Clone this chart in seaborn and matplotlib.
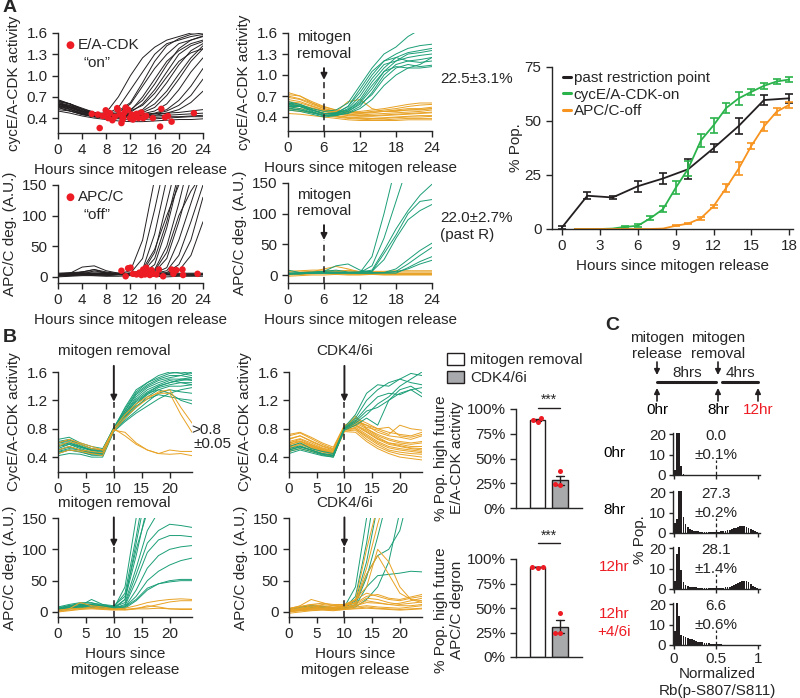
import numpy as np
import pandas as pd
import matplotlib
matplotlib.use('Agg')
import matplotlib.pyplot as plt
import seaborn as sns
from matplotlib.patches import Patch

sns.set_style('ticks')
plt.rcParams['font.family'] = ['Liberation Sans', 'DejaVu Sans']
plt.rcParams['font.size'] = 11
plt.rcParams['axes.linewidth'] = 1
plt.rcParams['xtick.major.size'] = 4
plt.rcParams['ytick.major.size'] = 4

GREEN = '#1b9e77'
ORANGE = '#e8a224'
RED = '#ed1c24'

# ---------------- data ----------------
hours = [0, 2, 4, 6, 8, 10, 12, 14, 16, 18, 20, 22, 24]

# A: single-cell cycE/A-CDK activity (black)
a_cdk_traces = [
    [0.62, 0.58, 0.50, 0.45, 0.48, 0.70, 1.00, 1.25, 1.40, 1.50, 1.55, 1.60, 1.62],
    [0.60, 0.55, 0.48, 0.44, 0.45, 0.55, 0.80, 1.05, 1.30, 1.45, 1.50, 1.55, 1.58],
    [0.58, 0.52, 0.46, 0.42, 0.44, 0.48, 0.60, 0.85, 1.10, 1.30, 1.45, 1.50, 1.55],
    [0.65, 0.60, 0.52, 0.46, 0.44, 0.45, 0.50, 0.70, 0.95, 1.20, 1.35, 1.45, 1.50],
    [0.55, 0.50, 0.45, 0.42, 0.40, 0.42, 0.48, 0.60, 0.80, 1.05, 1.30, 1.42, 1.48],
    [0.60, 0.57, 0.50, 0.45, 0.43, 0.44, 0.46, 0.52, 0.68, 0.90, 1.15, 1.35, 1.45],
    [0.63, 0.60, 0.52, 0.47, 0.45, 0.44, 0.45, 0.48, 0.55, 0.72, 0.95, 1.20, 1.38],
    [0.57, 0.53, 0.47, 0.43, 0.42, 0.43, 0.44, 0.46, 0.50, 0.60, 0.80, 1.05, 1.25],
    [0.60, 0.55, 0.50, 0.46, 0.44, 0.43, 0.44, 0.45, 0.47, 0.52, 0.65, 0.85, 1.10],
    [0.52, 0.50, 0.45, 0.42, 0.41, 0.40, 0.42, 0.44, 0.46, 0.50, 0.58, 0.72, 0.95],
    [0.62, 0.56, 0.50, 0.46, 0.44, 0.43, 0.42, 0.42, 0.43, 0.44, 0.45, 0.46, 0.47],
    [0.55, 0.50, 0.46, 0.42, 0.40, 0.39, 0.38, 0.38, 0.39, 0.40, 0.41, 0.42, 0.42],
    [0.66, 0.60, 0.54, 0.48, 0.45, 0.44, 0.44, 0.45, 0.46, 0.47, 0.48, 0.50, 0.52],
    [0.50, 0.47, 0.43, 0.40, 0.38, 0.36, 0.35, 0.35, 0.36, 0.37, 0.38, 0.38, 0.39],
    [0.60, 0.58, 0.52, 0.47, 0.46, 0.50, 0.62, 0.90, 1.20, 1.42, 1.52, 1.58, 1.60],
    [0.58, 0.54, 0.49, 0.45, 0.44, 0.46, 0.52, 0.65, 0.88, 1.15, 1.38, 1.50, 1.56],
    [0.64, 0.60, 0.53, 0.48, 0.46, 0.46, 0.47, 0.50, 0.60, 0.78, 1.02, 1.25, 1.42],
    [0.56, 0.52, 0.47, 0.44, 0.42, 0.41, 0.42, 0.43, 0.44, 0.47, 0.52, 0.62, 0.78],
    [0.60, 0.55, 0.49, 0.45, 0.43, 0.42, 0.41, 0.41, 0.41, 0.42, 0.42, 0.43, 0.44],
    [0.58, 0.55, 0.50, 0.46, 0.44, 0.45, 0.50, 0.58, 0.75, 0.98, 1.20, 1.32, 1.38],
]
cdk_on_hour = [5.6, 6.6, 6.9, 7.4, 7.9, 8.3, 8.6, 9.0, 9.4, 9.8, 10.2, 10.5, 10.8, 11.0,
               11.2, 11.6, 11.9, 12.2, 12.4, 12.9, 13.3, 13.8, 14.1, 14.6, 15.7, 16.9,
               17.1, 17.7, 18.2, 18.8, 22.5, 9.9, 13.0, 10.7, 8.1]
cdk_on_value = [0.46, 0.45, 0.26, 0.43, 0.51, 0.40, 0.47, 0.37, 0.42, 0.54, 0.45, 0.33,
                0.41, 0.48, 0.55, 0.52, 0.40, 0.45, 0.38, 0.42, 0.40, 0.48, 0.40, 0.43,
                0.40, 0.28, 0.53, 0.41, 0.43, 0.35, 0.47, 0.52, 0.46, 0.38, 0.45]

# A: APC/C degradation (black)
a_apc_traces = [
    [3, 4, 6, 5, 4, 5, 10, 60, 160, 250, 300, 320, 330],
    [2, 3, 4, 4, 4, 4, 6, 30, 110, 200, 260, 300, 320],
    [4, 5, 5, 6, 5, 6, 5, 12, 70, 160, 240, 280, 300],
    [3, 3, 4, 5, 4, 4, 5, 8, 40, 120, 200, 260, 300],
    [2, 4, 5, 4, 3, 4, 4, 6, 20, 80, 160, 230, 280],
    [5, 6, 7, 6, 5, 5, 5, 6, 12, 50, 120, 200, 260],
    [3, 4, 3, 4, 4, 5, 5, 6, 8, 30, 90, 160, 220],
    [4, 3, 4, 5, 5, 4, 4, 5, 6, 15, 60, 120, 180],
    [2, 3, 4, 4, 3, 4, 5, 5, 6, 10, 35, 90, 150],
    [3, 4, 5, 5, 4, 4, 4, 5, 5, 7, 20, 60, 130],
    [4, 5, 6, 5, 4, 4, 5, 5, 6, 6, 10, 35, 90],
    [3, 4, 4, 4, 4, 5, 5, 12, 45, 100, 150, 200, 240],
    [3, 5, 8, 12, 6, 5, 6, 8, 30, 90, 170, 230, 280],
    [4, 4, 5, 5, 5, 5, 6, 6, 10, 40, 100, 140, 170],
    [2, 6, 16, 18, 10, 6, 4, 4, 5, 5, 5, 5, 5],
    [4, 5, 8, 12, 8, 5, 4, 4, 4, 4, 4, 4, 4],
    [1, 2, 3, 2, 2, 3, 3, 2, 2, 3, 2, 2, 3],
    [6, 7, 8, 8, 7, 6, 6, 7, 6, 6, 6, 6, 6],
    [0, 1, 2, 2, 1, 1, 2, 1, 1, 0, 1, 1, 1],
    [3, 3, 4, 10, 6, 4, 3, 3, 4, 4, 3, 3, 4],
]
apc_off_hour = [10.5, 11.2, 11.6, 12.0, 12.4, 13.0, 13.5, 14.1, 14.4, 14.6, 14.9, 15.2,
                15.5, 15.7, 16.7, 17.4, 18.8, 19.1, 19.6, 20.6, 20.7, 23.1, 13.8, 16.3, 14.6]
apc_off_value = [10, 1, 14, 15, 5, 4, 7, 12, 4, 15, 8, 3, 11, 5, 12, 1, 12, 5, 11, 12, 3,
                 5, 3, 4, 8]

# A: mitogen removal at 6 h
a6_cdk_green = [
    [0.60, 0.58, 0.52, 0.48, 0.50, 0.60, 0.85, 1.10, 1.30, 1.40, 1.55, 1.65, 1.70],
    [0.55, 0.55, 0.50, 0.45, 0.45, 0.55, 0.75, 1.00, 1.20, 1.30, 1.38, 1.42, 1.44],
    [0.58, 0.56, 0.50, 0.44, 0.46, 0.50, 0.65, 0.90, 1.10, 1.25, 1.32, 1.35, 1.38],
    [0.52, 0.50, 0.46, 0.42, 0.42, 0.48, 0.60, 0.80, 1.05, 1.20, 1.30, 1.32, 1.35],
    [0.60, 0.55, 0.48, 0.42, 0.44, 0.52, 0.70, 0.95, 1.15, 1.20, 1.25, 1.28, 1.30],
    [0.50, 0.48, 0.44, 0.40, 0.42, 0.46, 0.55, 0.75, 1.00, 1.15, 1.20, 1.22, 1.25],
    [0.62, 0.58, 0.50, 0.45, 0.46, 0.55, 0.80, 1.05, 1.20, 1.25, 1.20, 1.18, 1.20],
    [0.55, 0.52, 0.47, 0.42, 0.44, 0.48, 0.58, 0.72, 0.95, 1.10, 1.15, 1.12, 1.14],
    [0.57, 0.55, 0.50, 0.45, 0.45, 0.50, 0.62, 0.85, 1.05, 1.12, 1.10, 1.10, 1.12],
    [0.53, 0.50, 0.46, 0.42, 0.43, 0.45, 0.52, 0.65, 0.85, 1.00, 1.10, 1.15, 1.25],
]
a6_cdk_orange = [
    [0.72, 0.70, 0.62, 0.55, 0.50, 0.48, 0.48, 0.50, 0.52, 0.55, 0.58, 0.60, 0.60],
    [0.68, 0.65, 0.58, 0.52, 0.48, 0.46, 0.45, 0.46, 0.48, 0.50, 0.52, 0.52, 0.54],
    [0.62, 0.60, 0.55, 0.50, 0.46, 0.44, 0.43, 0.44, 0.45, 0.46, 0.47, 0.48, 0.50],
    [0.58, 0.56, 0.52, 0.48, 0.44, 0.42, 0.41, 0.41, 0.42, 0.43, 0.44, 0.45, 0.46],
    [0.55, 0.52, 0.50, 0.46, 0.42, 0.40, 0.39, 0.38, 0.39, 0.40, 0.41, 0.42, 0.42],
    [0.50, 0.48, 0.46, 0.43, 0.40, 0.38, 0.37, 0.36, 0.36, 0.37, 0.38, 0.38, 0.38],
    [0.45, 0.44, 0.42, 0.40, 0.38, 0.36, 0.35, 0.35, 0.35, 0.35, 0.36, 0.36, 0.36],
    [0.65, 0.62, 0.56, 0.50, 0.47, 0.62, 0.65, 0.52, 0.48, 0.48, 0.50, 0.50, 0.52],
    [0.75, 0.70, 0.60, 0.52, 0.48, 0.46, 0.46, 0.48, 0.50, 0.52, 0.55, 0.57, 0.58],
    [0.60, 0.57, 0.53, 0.49, 0.45, 0.43, 0.42, 0.42, 0.43, 0.44, 0.45, 0.46, 0.47],
    [0.52, 0.50, 0.47, 0.44, 0.41, 0.39, 0.38, 0.38, 0.38, 0.39, 0.40, 0.40, 0.41],
    [0.70, 0.66, 0.60, 0.54, 0.50, 0.47, 0.46, 0.47, 0.48, 0.49, 0.50, 0.51, 0.52],
]
a6_apc_green = [
    [2, 3, 4, 6, 8, 5, 4, 30, 100, 180, 250, 300, 320],
    [3, 4, 5, 5, 5, 4, 4, 15, 60, 120, 180, 220, 250],
    [2, 3, 3, 4, 4, 4, 5, 8, 40, 75, 105, 130, 148],
    [3, 3, 4, 5, 4, 4, 4, 6, 35, 65, 100, 120, 123],
    [2, 2, 3, 4, 4, 4, 5, 6, 25, 60, 90, 105, 115],
    [1, 2, 3, 3, 3, 3, 3, 3, 4, 10, 25, 40, 52],
    [2, 2, 3, 3, 4, 4, 3, 3, 4, 6, 18, 32, 45],
    [8, 4, 4, 6, 15, 18, 8, 4, 3, 3, 12, 22, 30],
    [2, 3, 3, 3, 3, 3, 3, 4, 4, 5, 10, 18, 24],
]
a6_apc_orange = [
    [2, 3, 5, 10, 14, 10, 5, 3, 2, 2, 2, 2, 2],
    [0, 1, 2, 3, 5, 8, 4, 2, 1, 1, 1, 1, 1],
    [5, 5, 6, 6, 6, 5, 5, 5, 5, 5, 5, 5, 5],
    [-2, -1, 0, 0, 1, 0, 0, 1, 0, 0, 0, 0, 0],
    [3, 3, 4, 4, 3, 3, 3, 3, 3, 3, 3, 3, 3],
    [6, 7, 8, 8, 7, 7, 6, 6, 6, 7, 7, 7, 7],
    [1, 1, 2, 2, 2, 1, 1, 1, 1, 2, 2, 2, 2],
]

# A: population curves
rp_hours = [0, 2, 4, 6, 8, 10, 12, 14, 16, 18]
rp_pct = [0.8, 15.4, 14.6, 19.8, 23.4, 27.7, 37.4, 47.7, 59.7, 60.5]
rp_err = [0.8, 1.5, 0.5, 2.5, 2.5, 4.5, 1.8, 3.5, 2.5, 2.0]
on_hours = [1, 2, 3, 4, 5, 6, 7, 8, 9, 10, 11, 12, 13, 14, 15, 16, 17, 18]
cdk_on_pct = [0, 0, 0, 0.2, 1.0, 1.5, 5.0, 9.2, 19.0, 28.0, 41.0, 48.0, 56.0, 60.5,
              63.5, 66.3, 68.3, 69.2]
cdk_on_err = [0, 0, 0, 0, 0.5, 0.6, 0.8, 1.5, 3.0, 3.5, 3.0, 3.5, 2.5, 3.0, 1.5, 1.5, 1.2, 1.0]
apc_off_pct = [0, 0, 0, 0, 0, 0, 0, 0.2, 1.5, 2.5, 5.0, 10.5, 19.0, 28.0, 38.5, 47.5,
               54.3, 57.5]
apc_off_err = [0, 0, 0, 0, 0, 0, 0, 0, 0.3, 0.4, 0.7, 0.8, 2.0, 3.0, 1.5, 2.0, 1.5, 1.5]

# B: mitogen removal at 10 h
b_rem_cdk_green = [
    [0.62, 0.65, 0.58, 0.52, 0.50, 0.80, 1.10, 1.35, 1.45, 1.52, 1.58, 1.60, 1.58],
    [0.55, 0.60, 0.55, 0.50, 0.48, 0.80, 1.05, 1.30, 1.42, 1.50, 1.55, 1.55, 1.52],
    [0.50, 0.55, 0.50, 0.46, 0.45, 0.78, 1.02, 1.25, 1.38, 1.45, 1.50, 1.50, 1.48],
    [0.60, 0.62, 0.56, 0.50, 0.50, 0.82, 1.00, 1.20, 1.32, 1.40, 1.45, 1.48, 1.50],
    [0.45, 0.50, 0.48, 0.43, 0.42, 0.80, 0.98, 1.15, 1.28, 1.38, 1.42, 1.45, 1.45],
    [0.52, 0.58, 0.52, 0.47, 0.46, 0.79, 0.95, 1.10, 1.25, 1.35, 1.40, 1.40, 1.42],
    [0.65, 0.68, 0.60, 0.55, 0.52, 0.81, 1.05, 1.28, 1.40, 1.48, 1.52, 1.55, 1.60],
    [0.48, 0.52, 0.50, 0.45, 0.44, 0.78, 0.92, 1.05, 1.18, 1.30, 1.35, 1.32, 1.30],
    [0.58, 0.60, 0.54, 0.49, 0.47, 0.80, 1.00, 1.18, 1.30, 1.35, 1.30, 1.20, 1.15],
    [0.42, 0.45, 0.44, 0.40, 0.40, 0.76, 0.90, 1.02, 1.12, 1.22, 1.30, 1.35, 1.38],
    [0.55, 0.58, 0.54, 0.50, 0.50, 0.80, 1.02, 1.22, 1.35, 1.42, 1.48, 1.45, 1.42],
    [0.50, 0.54, 0.50, 0.46, 0.45, 0.79, 0.95, 1.12, 1.22, 1.28, 1.25, 1.22, 1.20],
    [0.60, 0.64, 0.58, 0.52, 0.49, 0.82, 1.08, 1.32, 1.45, 1.55, 1.60, 1.58, 1.55],
    [0.47, 0.50, 0.47, 0.43, 0.43, 0.77, 0.96, 1.15, 1.30, 1.40, 1.45, 1.50, 1.52],
]
b_rem_cdk_orange = [
    [0.55, 0.62, 0.58, 0.52, 0.50, 0.78, 0.75, 0.60, 0.50, 0.45, 0.44, 0.45, 0.42],
    [0.60, 0.65, 0.60, 0.55, 0.50, 0.80, 0.70, 0.58, 0.50, 0.45, 0.50, 0.48, 0.48],
    [0.50, 0.55, 0.50, 0.48, 0.46, 0.80, 1.00, 1.15, 1.25, 1.30, 1.30, 1.00, 0.75],
    [0.45, 0.50, 0.48, 0.45, 0.42, 0.78, 0.95, 1.10, 1.22, 1.32, 1.35, 1.10, 0.88],
]
b_rem_apc_green = [
    [3, 8, 10, 12, 8, 6, 40, 150, 250, 300, 320, 330, 340],
    [5, 10, 14, 15, 10, 8, 30, 120, 220, 280, 300, 310, 320],
    [2, 6, 8, 10, 8, 5, 20, 90, 170, 240, 280, 300, 310],
    [8, 12, 15, 14, 12, 10, 25, 100, 160, 200, 230, 240, 250],
    [4, 8, 10, 20, 12, 8, 15, 70, 130, 160, 180, 190, 200],
    [3, 6, 8, 10, 8, 6, 12, 60, 110, 130, 140, 138, 135],
    [6, 10, 12, 12, 10, 7, 10, 50, 95, 115, 122, 122, 120],
    [2, 5, 7, 8, 6, 4, 8, 35, 70, 90, 100, 104, 106],
    [4, 7, 9, 10, 8, 6, 8, 25, 50, 65, 75, 82, 86],
    [3, 5, 6, 7, 6, 5, 6, 18, 35, 45, 50, 52, 52],
    [5, 8, 10, 12, 10, 8, 8, 20, 38, 45, 48, 50, 50],
    [7, 10, 12, 10, 9, 7, 20, 110, 200, 260, 300, 300, 300],
]
b_rem_apc_orange = [
    [2, 5, 15, 10, 8, 5, 6, 10, 15, 18, 20, 21, 20],
    [0, 2, 4, 5, 4, 3, 4, 6, 8, 12, 16, 18, 18],
    [3, 5, 6, 6, 5, 4, 4, 5, 5, 6, 5, 5, 5],
    [1, 3, 5, 8, 6, 4, 3, 5, 10, 8, 5, 4, 4],
]

# B: CDK4/6i at 10 h
b_inh_cdk_green = [
    [0.55, 0.60, 0.52, 0.48, 0.45, 0.80, 0.95, 1.20, 1.35, 1.45, 1.50, 1.58, 1.55],
    [0.50, 0.55, 0.50, 0.45, 0.43, 0.82, 1.00, 1.30, 1.42, 1.40, 1.50, 1.45, 1.42],
    [0.45, 0.50, 0.46, 0.42, 0.40, 0.80, 0.90, 1.05, 1.10, 1.20, 1.35, 1.40, 1.30],
    [0.52, 0.56, 0.50, 0.44, 0.42, 0.78, 0.85, 0.95, 0.85, 1.20, 1.30, 1.35, 1.38],
    [0.48, 0.52, 0.48, 0.43, 0.40, 0.80, 0.92, 1.10, 1.25, 1.30, 1.28, 1.35, 1.25],
    [0.50, 0.54, 0.50, 0.45, 0.42, 0.79, 0.88, 1.00, 1.15, 1.25, 1.40, 1.50, 1.60],
]
b_inh_cdk_orange = [
    [0.65, 0.70, 0.62, 0.55, 0.50, 0.82, 0.90, 0.85, 0.75, 0.70, 0.68, 0.65, 0.70],
    [0.60, 0.65, 0.58, 0.52, 0.48, 0.80, 0.88, 0.80, 0.72, 0.66, 0.62, 0.60, 0.62],
    [0.58, 0.62, 0.55, 0.50, 0.46, 0.80, 0.85, 0.78, 0.68, 0.60, 0.58, 0.55, 0.55],
    [0.70, 0.74, 0.66, 0.58, 0.52, 0.84, 0.95, 0.88, 0.80, 0.75, 0.72, 0.70, 0.75],
    [0.55, 0.60, 0.54, 0.49, 0.45, 0.78, 0.82, 0.72, 0.62, 0.55, 0.52, 0.50, 0.48],
    [0.52, 0.58, 0.52, 0.47, 0.44, 0.79, 0.80, 0.68, 0.58, 0.50, 0.47, 0.45, 0.44],
    [0.62, 0.66, 0.60, 0.53, 0.49, 0.81, 0.86, 0.76, 0.66, 0.60, 0.56, 0.53, 0.52],
    [0.50, 0.55, 0.50, 0.45, 0.42, 0.77, 0.78, 0.65, 0.55, 0.48, 0.44, 0.42, 0.40],
    [0.48, 0.52, 0.48, 0.44, 0.41, 0.76, 0.75, 0.62, 0.52, 0.45, 0.40, 0.38, 0.36],
    [0.66, 0.70, 0.63, 0.56, 0.51, 0.83, 0.92, 0.85, 0.80, 0.82, 0.70, 0.68, 0.72],
    [0.57, 0.62, 0.56, 0.50, 0.46, 0.80, 0.84, 0.75, 0.65, 0.58, 0.55, 0.52, 0.50],
    [0.60, 0.63, 0.57, 0.51, 0.47, 0.81, 0.98, 0.80, 0.70, 0.64, 0.60, 0.58, 0.60],
    [0.54, 0.58, 0.53, 0.48, 0.44, 0.79, 0.80, 0.70, 0.60, 0.53, 0.50, 0.48, 0.46],
    [0.72, 0.75, 0.68, 0.60, 0.54, 0.85, 0.90, 0.82, 0.78, 0.72, 0.85, 0.80, 0.78],
]
b_inh_apc_green = [
    [3, 6, 8, 8, 6, 8, 40, 150, 260, 300, 300, 300, 300],
    [2, 4, 6, 6, 5, 6, 25, 110, 220, 280, 300, 300, 300],
    [4, 8, 10, 9, 7, 8, 18, 80, 170, 240, 280, 300, 300],
    [2, 5, 7, 6, 5, 6, 12, 55, 120, 190, 240, 260, 270],
    [5, 8, 10, 8, 6, 7, 10, 40, 58, 60, 62, 65, 64],
    [1, 3, 5, 5, 4, 5, 8, 20, 40, 80, 160, 230, 260],
    [3, 5, 8, 7, 6, 8, 15, 60, 90, 100, 130, 200, 250],
]
b_inh_apc_orange = [
    [2, 5, 8, 6, 5, 8, 20, 100, 170, 220, 260, 280, 290],
    [3, 6, 10, 8, 6, 10, 15, 70, 140, 200, 250, 270, 280],
    [4, 8, 12, 10, 8, 10, 20, 40, 100, 80, 40, 20, 18],
    [2, 5, 8, 12, 10, 10, 15, 60, 90, 60, 30, 20, 15],
    [5, 10, 20, 15, 10, 12, 20, 30, 25, 20, 18, 22, 25],
    [1, 3, 5, 6, 5, 8, 12, 22, 20, 15, 12, 14, 16],
    [0, 2, 4, 5, 4, 6, 10, 18, 15, 12, 10, 10, 12],
    [3, 5, 6, 5, 4, 5, 8, 10, 8, 7, 6, 8, 10],
    [-2, 0, 2, 3, 2, 4, 6, 8, 6, 5, 4, 5, 6],
    [6, 9, 12, 14, 12, 12, 14, 25, 28, 22, 20, 24, 28],
    [2, 4, 6, 8, 7, 8, 10, 15, 14, 12, 14, 18, 22],
    [1, 2, 3, 4, 3, 4, 5, 6, 5, 4, 3, 4, 5],
]

# B: fraction with high future activity (three replicates)
conditions = ['mitogen removal', 'CDK4/6i']
future_cdk_reps = {'mitogen removal': [87, 89, 91], 'CDK4/6i': [37, 24, 23]}
future_apc_reps = {'mitogen removal': [92, 92, 91], 'CDK4/6i': [45, 24, 24]}

# C: Rb phosphorylation histograms (bin width 0.025)
rb_rows = ['0hr', '8hr', '12hr', '12hr\n+4/6i']
rb_hist = [
    [2.5, 25, 25, 4.6, 0.3] + [0] * 35,
    [5, 7, 25, 22, 8, 4.4, 3, 2, 1.5, 1.2, 1.0, 0.8, 0.7, 0.6, 0.5, 0.5, 0.5, 0.5, 0.5, 0.5,
     0.6, 0.7, 0.8, 1.0, 1.2, 1.4, 1.6, 1.9, 2.2, 2.6, 3.0, 3.2, 3.4, 3.3, 3.0, 2.6, 2.0,
     1.4, 0.8, 0.3],
    [4, 17, 25, 9.4, 3.4, 2, 1.5, 1.2, 1.0, 0.9, 0.8, 0.7, 0.6, 0.5, 0.5, 0.5, 0.4, 0.4,
     0.4, 0.4, 0.4, 0.5, 0.6, 0.7, 0.8, 1.0, 1.2, 1.5, 1.9, 2.4, 3.0, 3.5, 3.8, 3.9, 3.7,
     3.2, 2.4, 1.5, 0.8, 0.3],
    [7, 25, 14, 5, 4.4, 4, 3.6, 3.1, 2.7, 2.3, 2.0, 1.7, 1.5, 1.3, 1.1, 0.9, 0.8, 0.7, 0.6,
     0.5, 0.4, 0.3, 0.3, 0.2, 0.2, 0.1, 0.1, 0.1] + [0] * 12,
]
rb_pct = ['0.0', '27.3', '28.1', '6.6']
rb_sem = ['±0.1%', '±0.2%', '±1.4%', '±0.6%']
rb_row_color = ['black', 'black', RED, RED]

# ---------------- figure ----------------
W, H = 800, 698
fig = plt.figure(figsize=(W / 100, H / 100), dpi=100)


def px_axes(x0, y0, x1, y1):
    return fig.add_axes([x0 / W, 1 - y1 / H, (x1 - x0) / W, (y1 - y0) / H])


def draw_traces(ax, traces, color, lw=0.7):
    rows = []
    for i, tr in enumerate(traces):
        for h, v in zip(hours, tr):
            rows.append((i, h, v))
    df = pd.DataFrame(rows, columns=['cell', 'hour', 'value'])
    sns.lineplot(data=df, x='hour', y='value', units='cell', estimator=None,
                 color=color, lw=lw, ax=ax)


def style(ax, xticks, yticks, ylim, ylabel, xlabel=None, xlim=(0, 24)):
    ax.set_xlim(*xlim)
    ax.set_ylim(*ylim)
    ax.set_xticks(xticks)
    ax.set_yticks(yticks)
    ax.set_ylabel(ylabel)
    ax.set_xlabel(xlabel if xlabel else '')
    ax.tick_params(labelsize=11, width=1)
    sns.despine(ax=ax)


def event_arrow(ax, x, text, y_text, y_tip, y_bottom):
    ax.annotate(text, xy=(x, y_tip), xytext=(x, y_text), ha='center', va='center',
                fontsize=11, annotation_clip=False,
                arrowprops=dict(arrowstyle='-|>', color='#231f20', lw=1.4,
                                mutation_scale=9, shrinkA=3, shrinkB=0))
    ax.plot([x, x], [y_bottom, y_tip], ls=(0, (4, 3)), color='#231f20', lw=1.1,
            clip_on=False, zorder=5)


hrs_label = 'Hours since mitogen release'

# A1
ax = px_axes(58, 33, 203, 133)
draw_traces(ax, a_cdk_traces, '#231f20')
sns.scatterplot(x=cdk_on_hour, y=cdk_on_value, color=RED, s=22, edgecolor='none',
                ax=ax, zorder=5, label='E/A-CDK')
style(ax, [0, 4, 8, 12, 16, 20, 24], [0.4, 0.7, 1.0, 1.3, 1.6], (0.19, 1.6),
      'cycE/A-CDK activity', hrs_label)
ax.legend(loc='upper left', bbox_to_anchor=(-0.03, 1.04), frameon=False, fontsize=11,
          handlelength=1.0, handletextpad=0.0, borderaxespad=0.2, markerscale=1.2)

# A2
ax = px_axes(58, 185, 203, 283)
draw_traces(ax, a_apc_traces, '#231f20')
sns.scatterplot(x=apc_off_hour, y=apc_off_value, color=RED, s=22, edgecolor='none',
                ax=ax, zorder=5, label='APC/C')
style(ax, [0, 4, 8, 12, 16, 20, 24], [0, 50, 100, 150], (-10, 150),
      'APC/C deg. (A.U.)', hrs_label)
ax.legend(loc='upper left', bbox_to_anchor=(-0.03, 1.04), frameon=False, fontsize=11,
          handlelength=1.0, handletextpad=0.0, borderaxespad=0.2, markerscale=1.2)

# A3
ax = px_axes(288, 33, 432, 131)
draw_traces(ax, a6_cdk_orange, ORANGE)
draw_traces(ax, a6_cdk_green, GREEN)
style(ax, [0, 6, 12, 18, 24], [0.4, 0.7, 1.0, 1.3, 1.6], (0.2, 1.6),
      'cycE/A-CDK activity', hrs_label)
event_arrow(ax, 6, 'mitogen\nremoval', 1.42, 0.93, 0.2)

# A4
ax = px_axes(288, 183, 432, 283)
draw_traces(ax, a6_apc_orange, ORANGE)
draw_traces(ax, a6_apc_green, GREEN)
style(ax, [0, 6, 12, 18, 24], [0, 50, 100, 150], (-13, 150),
      'APC/C deg. (A.U.)', hrs_label)
event_arrow(ax, 6, 'mitogen\nremoval', 118, 57, -13)

# A5
ax = px_axes(552, 67, 793, 229)
pop_lines = [(rp_hours, rp_pct, rp_err, '#231f20', 'past restriction point'),
             (on_hours, cdk_on_pct, cdk_on_err, '#2bb34b', 'cycE/A-CDK-on'),
             (on_hours, apc_off_pct, apc_off_err, '#f7931e', 'APC/C-off')]
for xs, ys, es, col, lab in pop_lines:
    sns.lineplot(x=xs, y=ys, color=col, lw=1.3, ax=ax, label=lab)
    keep = [i for i, e in enumerate(es) if e > 0]
    ax.errorbar([xs[i] for i in keep], [ys[i] for i in keep], yerr=[es[i] for i in keep],
                fmt='none', ecolor=col, elinewidth=1.2, capsize=3, capthick=1.2)
style(ax, [0, 3, 6, 9, 12, 15, 18], [0, 25, 50, 75], (0, 75), '% Pop.', hrs_label,
      xlim=(-0.8, 18.3))
ax.yaxis.labelpad = 1
for ln in ax.get_lines():
    ln.set_clip_on(False)
leg = ax.legend(loc='upper left', bbox_to_anchor=(0.02, 1.01), frameon=False, fontsize=11,
                handlelength=0.5, handletextpad=0.2, labelspacing=0.15, borderaxespad=0)
for hl in leg.get_lines():
    hl.set_linewidth(2.2)

# B1
ax = px_axes(58, 372, 192, 472)
draw_traces(ax, b_rem_cdk_green, GREEN)
draw_traces(ax, b_rem_cdk_orange, ORANGE)
style(ax, [0, 5, 10, 15, 20], [0.4, 0.8, 1.2, 1.6], (0.19, 1.6), 'CycE/A-CDK activity')
event_arrow(ax, 10, 'mitogen removal', 1.89, 1.18, 0.19)

# B2
ax = px_axes(58, 518, 192, 617)
draw_traces(ax, b_rem_apc_green, GREEN)
draw_traces(ax, b_rem_apc_orange, ORANGE)
style(ax, [0, 5, 10, 15, 20], [0, 50, 100, 150], (-8, 150), 'APC/C deg. (A.U.)',
      'Hours since\nmitogen release')
event_arrow(ax, 10, 'mitogen removal', 174, 104, -8)

# B3
ax = px_axes(289, 372, 422, 472)
draw_traces(ax, b_inh_cdk_orange, ORANGE)
draw_traces(ax, b_inh_cdk_green, GREEN)
style(ax, [0, 5, 10, 15, 20], [0.4, 0.8, 1.2, 1.6], (0.19, 1.6), 'CycE/A-CDK activity')
event_arrow(ax, 10, 'CDK4/6i', 1.89, 1.18, 0.19)

# B4
ax = px_axes(289, 518, 422, 617)
draw_traces(ax, b_inh_apc_green, GREEN)
draw_traces(ax, b_inh_apc_orange, ORANGE)
style(ax, [0, 5, 10, 15, 20], [0, 50, 100, 150], (-8, 150), 'APC/C deg. (A.U.)',
      'Hours since\nmitogen release')
event_arrow(ax, 10, 'CDK4/6i', 174, 104, -8)


# B bar charts
def future_bars(ax, reps, star_y):
    df = pd.DataFrame([(c, v) for c in conditions for v in reps[c]],
                      columns=['cond', 'pct'])
    sns.barplot(data=df, x='cond', y='pct', hue='cond', order=conditions,
                hue_order=conditions, palette=['white', '#a7a9ac'], edgecolor='#231f20',
                linewidth=1, errorbar='se', capsize=0.35,
                err_kws={'color': '#231f20', 'linewidth': 1}, width=0.67,
                legend=False, ax=ax)
    sns.swarmplot(data=df, x='cond', y='pct', order=conditions, color=RED, size=3.6,
                  ax=ax, zorder=5)
    ax.set_xlim(-0.96, 1.98)
    ax.set_ylim(0, 100)
    ax.set_yticks([0, 25, 50, 75, 100])
    ax.set_yticklabels(['0%', '25%', '50%', '75%', '100%'])
    ax.set_xticks([])
    ax.set_xlabel('')
    ax.set_ylabel('')
    ax.tick_params(labelsize=11, width=1)
    ax.plot([0, 1], [star_y, star_y], color='#231f20', lw=1, clip_on=False)
    ax.text(0.5, star_y + 1, '***', ha='center', va='bottom', fontsize=10)
    sns.despine(ax=ax)


ax = px_axes(516, 409, 582, 508)
future_bars(ax, future_cdk_reps, 101)
ax = px_axes(516, 559, 582, 657)
future_bars(ax, future_apc_reps, 116)

fig.legend(handles=[Patch(facecolor='white', edgecolor='#231f20', label=conditions[0]),
                    Patch(facecolor='#a7a9ac', edgecolor='#231f20', label=conditions[1])],
           loc='upper left', bbox_to_anchor=(447 / W, 1 - 353 / H), frameon=False,
           fontsize=11, handlelength=1.1, handleheight=0.8, handletextpad=0.4,
           labelspacing=0.25, borderaxespad=0, borderpad=0)

# C histograms
bin_centers = np.arange(40) * 0.025 + 0.0125
row_bottoms = [475, 533, 589, 645]
for i, (bottom, heights) in enumerate(zip(row_bottoms, rb_hist)):
    ax = px_axes(673, bottom - 42, 760, bottom)
    ax.bar(bin_centers, heights, width=0.021, color='#231f20', linewidth=0)
    ax.set_xlim(-0.012, 1.024)
    ax.set_ylim(0, 20.5)
    ax.set_yticks([0, 10, 20])
    ax.set_xticks([0, 0.5, 1])
    if i == 3:
        ax.set_xticklabels(['0', '0.5', '1'])
    else:
        ax.set_xticklabels([])
    ax.tick_params(labelsize=11, width=1, length=3, pad=2)
    ax.axvline(0.5, ymax=0.36, ls=(0, (3, 2)), color='#231f20', lw=0.9)
    ax.text(0.5, 19, rb_pct[i], ha='center', va='center', fontsize=11)
    ax.text(0.5, 10, rb_sem[i], ha='center', va='center', fontsize=11)
    sns.despine(ax=ax)

# overlay for free text in pixel coordinates
ov = fig.add_axes([0, 0, 1, 1], zorder=10)
ov.set_xlim(0, W)
ov.set_ylim(H, 0)
ov.axis('off')

ov.text(3, 8, 'A', fontsize=14, fontweight='bold', va='center')
ov.text(3, 338, 'B', fontsize=14, fontweight='bold', va='center')
ov.text(605, 326, 'C', fontsize=14, fontweight='bold', va='center')

ov.text(83, 63, '“on”', fontsize=11, va='center')
ov.text(83, 215, '“off”', fontsize=11, va='center')
ov.text(440, 79, '22.5±3.1%', fontsize=11, va='center')
ov.text(440, 218, '22.0±2.7%', fontsize=11, va='center')
ov.text(440, 235, '(past R)', fontsize=11, va='center')
ov.text(191, 430, '>0.8', fontsize=11, va='center')
ov.text(193, 444, '±0.05', fontsize=11, va='center')

ov.text(449, 458, '% Pop. high future\nE/A-CDK activity', rotation=90, ha='center',
        va='center', fontsize=11, linespacing=1.15)
ov.text(449, 610, '% Pop. high future\nAPC/C degron', rotation=90, ha='center',
        va='center', fontsize=11, linespacing=1.15)

# C timeline
ov.text(657, 346, 'mitogen\nrelease', ha='center', va='center', fontsize=11,
        linespacing=1.2)
ov.text(718, 346, 'mitogen\nremoval', ha='center', va='center', fontsize=11,
        linespacing=1.2)
for xa in [657, 718]:
    ov.annotate('', xy=(xa, 375), xytext=(xa, 362),
                arrowprops=dict(arrowstyle='-|>', color='#231f20', lw=1.2,
                                mutation_scale=8, shrinkA=0, shrinkB=0))
ov.plot([657, 716], [382, 382], color='#231f20', lw=2.2)
ov.plot([722, 758], [382, 382], color='#231f20', lw=2.2)
ov.text(687, 373, '8hrs', ha='center', va='center', fontsize=11)
ov.text(740, 373, '4hrs', ha='center', va='center', fontsize=11)
for xa, lab, col in [(657, '0hr', 'black'), (718, '8hr', 'black'), (758, '12hr', RED)]:
    ov.annotate('', xy=(xa, 388), xytext=(xa, 401),
                arrowprops=dict(arrowstyle='-|>', color='#231f20', lw=1.2,
                                mutation_scale=8, shrinkA=0, shrinkB=0))
    ov.text(xa, 410, lab, ha='center', va='center', fontsize=11, color=col)

for lab, col, yc in zip(rb_rows, rb_row_color, [453, 510, 567, 623]):
    ov.text(614, yc, lab, ha='center', va='center', fontsize=11, color=col,
            linespacing=1.3)
ov.text(640, 540, '% Pop.', rotation=90, ha='center', va='center', fontsize=11)
ov.text(717, 674, 'Normalized', ha='center', va='center', fontsize=11)
ov.text(717, 691, 'Rb(p-S807/S811)', ha='center', va='center', fontsize=11)

fig.savefig('out.png', dpi=100)
